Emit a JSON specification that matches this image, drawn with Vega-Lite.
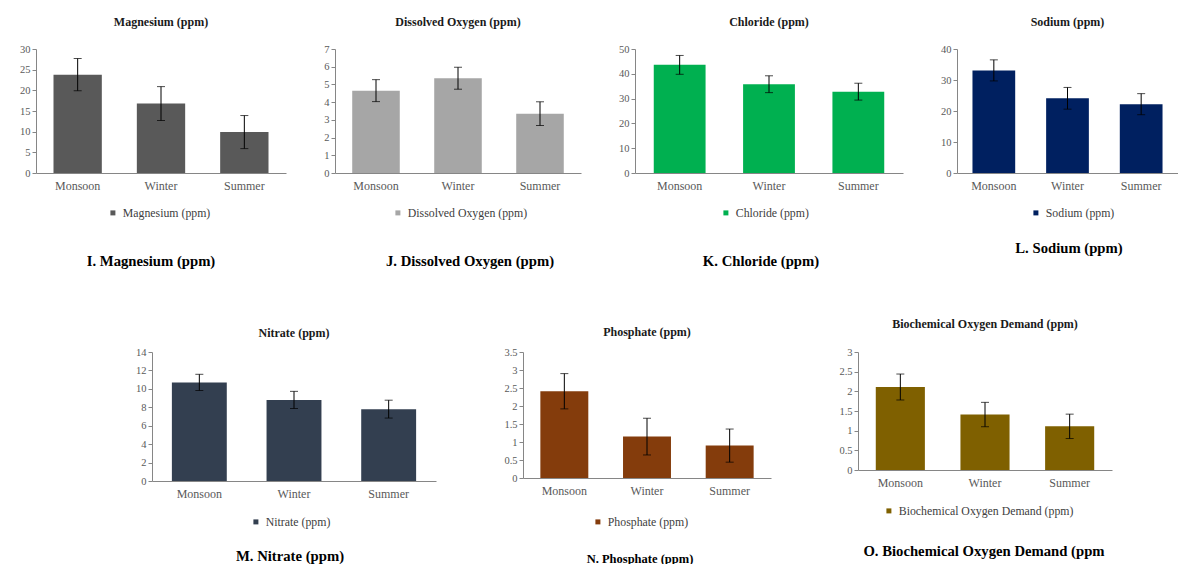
{
  "$schema": "https://vega.github.io/schema/vega-lite/v6.json",
  "background": "white",
  "padding": {"left": 19, "top": 16, "right": 0, "bottom": 0},
  "datasets": {
    "water": [
      {"param": "Magnesium (ppm)", "season": "Monsoon", "value": 23.8, "err": 3.9},
      {"param": "Magnesium (ppm)", "season": "Winter", "value": 16.8, "err": 4.1},
      {"param": "Magnesium (ppm)", "season": "Summer", "value": 9.9, "err": 4.0},
      {"param": "Dissolved Oxygen (ppm)", "season": "Monsoon", "value": 4.65, "err": 0.62},
      {"param": "Dissolved Oxygen (ppm)", "season": "Winter", "value": 5.35, "err": 0.62},
      {"param": "Dissolved Oxygen (ppm)", "season": "Summer", "value": 3.35, "err": 0.67},
      {"param": "Chloride (ppm)", "season": "Monsoon", "value": 43.6, "err": 3.8},
      {"param": "Chloride (ppm)", "season": "Winter", "value": 35.8, "err": 3.4},
      {"param": "Chloride (ppm)", "season": "Summer", "value": 32.8, "err": 3.4},
      {"param": "Sodium (ppm)", "season": "Monsoon", "value": 33.1, "err": 3.4},
      {"param": "Sodium (ppm)", "season": "Winter", "value": 24.1, "err": 3.5},
      {"param": "Sodium (ppm)", "season": "Summer", "value": 22.2, "err": 3.4},
      {"param": "Nitrate (ppm)", "season": "Monsoon", "value": 10.7, "err": 0.88},
      {"param": "Nitrate (ppm)", "season": "Winter", "value": 8.8, "err": 0.93},
      {"param": "Nitrate (ppm)", "season": "Summer", "value": 7.8, "err": 0.97},
      {"param": "Phosphate (ppm)", "season": "Monsoon", "value": 2.41, "err": 0.49},
      {"param": "Phosphate (ppm)", "season": "Winter", "value": 1.15, "err": 0.51},
      {"param": "Phosphate (ppm)", "season": "Summer", "value": 0.9, "err": 0.46},
      {"param": "Biochemical Oxygen Demand (ppm)", "season": "Monsoon", "value": 2.11, "err": 0.33},
      {"param": "Biochemical Oxygen Demand (ppm)", "season": "Winter", "value": 1.41, "err": 0.31},
      {"param": "Biochemical Oxygen Demand (ppm)", "season": "Summer", "value": 1.11, "err": 0.31}
    ]
  },
  "data": {"name": "water"},
  "resolve": {"scale": {"color": "independent"}},
  "spacing": 48,
  "vconcat": [
    {
      "resolve": {"scale": {"color": "independent"}},
      "spacing": 37,
      "hconcat": [
        {
          "width": 250, "height": 124,
          "title": {"text": "Magnesium (ppm)", "offset": 15},
          "transform": [{"filter": "datum.param === 'Magnesium (ppm)'"}],
          "encoding": {
            "x": {"field": "season", "type": "nominal", "sort": ["Monsoon", "Winter", "Summer"], "scale": {"paddingInner": 0.42, "paddingOuter": 0.21}, "axis": {"title": null}},
            "y": {"field": "value", "type": "quantitative", "scale": {"domain": [0, 30]}, "axis": {"title": null, "values": [0, 5, 10, 15, 20, 25, 30]}}
          },
          "layer": [
            {"mark": {"type": "bar"}, "encoding": {"color": {"field": "param", "type": "nominal", "scale": {"range": ["#595959"]}, "legend": {"orient": "none", "legendX": 51, "legendY": 158, "symbolOffset": 16, "title": "I. Magnesium (ppm)", "titlePadding": 34}}}},
            {"mark": {"type": "errorbar", "ticks": true, "color": "black", "size": 8, "thickness": 1}, "encoding": {"yError": {"field": "err"}}}
          ]
        },
        {
          "width": 246, "height": 124,
          "title": {"text": "Dissolved Oxygen (ppm)", "offset": 15},
          "transform": [{"filter": "datum.param === 'Dissolved Oxygen (ppm)'"}],
          "encoding": {
            "x": {"field": "season", "type": "nominal", "sort": ["Monsoon", "Winter", "Summer"], "scale": {"paddingInner": 0.42, "paddingOuter": 0.21}, "axis": {"title": null}},
            "y": {"field": "value", "type": "quantitative", "scale": {"domain": [0, 7]}, "axis": {"title": null, "values": [0, 1, 2, 3, 4, 5, 6, 7]}}
          },
          "layer": [
            {"mark": {"type": "bar"}, "encoding": {"color": {"field": "param", "type": "nominal", "scale": {"range": ["#a6a6a6"]}, "legend": {"orient": "none", "legendX": 51, "legendY": 158, "symbolOffset": -20, "title": "J. Dissolved Oxygen (ppm)", "titlePadding": 34}}}},
            {"mark": {"type": "errorbar", "ticks": true, "color": "black", "size": 8, "thickness": 1}, "encoding": {"yError": {"field": "err"}}}
          ]
        },
        {
          "width": 268, "height": 124,
          "title": {"text": "Chloride (ppm)", "offset": 15},
          "transform": [{"filter": "datum.param === 'Chloride (ppm)'"}],
          "encoding": {
            "x": {"field": "season", "type": "nominal", "sort": ["Monsoon", "Winter", "Summer"], "scale": {"paddingInner": 0.42, "paddingOuter": 0.21}, "axis": {"title": null}},
            "y": {"field": "value", "type": "quantitative", "scale": {"domain": [0, 50]}, "axis": {"title": null, "values": [0, 10, 20, 30, 40, 50]}}
          },
          "layer": [
            {"mark": {"type": "bar"}, "encoding": {"color": {"field": "param", "type": "nominal", "scale": {"range": ["#00b050"]}, "legend": {"orient": "none", "legendX": 68, "legendY": 158, "symbolOffset": 6, "title": "K. Chloride (ppm)", "titlePadding": 34}}}},
            {"mark": {"type": "errorbar", "ticks": true, "color": "black", "size": 8, "thickness": 1}, "encoding": {"yError": {"field": "err"}}}
          ]
        },
        {
          "width": 221, "height": 124,
          "title": {"text": "Sodium (ppm)", "offset": 15},
          "transform": [{"filter": "datum.param === 'Sodium (ppm)'"}],
          "encoding": {
            "x": {"field": "season", "type": "nominal", "sort": ["Monsoon", "Winter", "Summer"], "scale": {"paddingInner": 0.42, "paddingOuter": 0.21}, "axis": {"title": null}},
            "y": {"field": "value", "type": "quantitative", "scale": {"domain": [0, 40]}, "axis": {"title": null, "values": [0, 10, 20, 30, 40]}}
          },
          "layer": [
            {"mark": {"type": "bar"}, "encoding": {"color": {"field": "param", "type": "nominal", "scale": {"range": ["#002060"]}, "legend": {"orient": "none", "legendX": 58, "legendY": 158, "symbolOffset": 7, "title": "L. Sodium (ppm)", "titlePadding": 21}}}},
            {"mark": {"type": "errorbar", "ticks": true, "color": "black", "size": 8, "thickness": 1}, "encoding": {"yError": {"field": "err"}}}
          ]
        }
      ]
    },
    {
      "resolve": {"scale": {"color": "independent"}},
      "spacing": 67,
      "hconcat": [
        {"width": 32, "height": 10, "data": {"values": []}, "mark": "point"},
        {
          "width": 284, "height": 129,
          "title": {"text": "Nitrate (ppm)", "offset": 7.5},
          "transform": [{"filter": "datum.param === 'Nitrate (ppm)'"}],
          "encoding": {
            "x": {"field": "season", "type": "nominal", "sort": ["Monsoon", "Winter", "Summer"], "scale": {"paddingInner": 0.42, "paddingOuter": 0.21}, "axis": {"title": null}},
            "y": {"field": "value", "type": "quantitative", "scale": {"domain": [0, 14]}, "axis": {"title": null, "values": [0, 2, 4, 6, 8, 10, 12, 14]}}
          },
          "layer": [
            {"mark": {"type": "bar"}, "encoding": {"color": {"field": "param", "type": "nominal", "scale": {"range": ["#333f50"]}, "legend": {"orient": "none", "legendX": 84, "legendY": 164, "symbolOffset": 0, "title": "M. Nitrate (ppm)", "titlePadding": 20}}}},
            {"mark": {"type": "errorbar", "ticks": true, "color": "black", "size": 8, "thickness": 1}, "encoding": {"yError": {"field": "err"}}}
          ]
        },
        {
          "width": 248, "height": 126,
          "title": {"text": "Phosphate (ppm)", "offset": 8.5},
          "transform": [{"filter": "datum.param === 'Phosphate (ppm)'"}],
          "encoding": {
            "x": {"field": "season", "type": "nominal", "sort": ["Monsoon", "Winter", "Summer"], "scale": {"paddingInner": 0.42, "paddingOuter": 0.21}, "axis": {"title": null}},
            "y": {"field": "value", "type": "quantitative", "scale": {"domain": [0, 3.5]}, "axis": {"title": null, "format": "~g", "values": [0, 0.5, 1, 1.5, 2, 2.5, 3, 3.5]}}
          },
          "layer": [
            {"mark": {"type": "bar"}, "encoding": {"color": {"field": "param", "type": "nominal", "scale": {"range": ["#843c0c"]}, "legend": {"orient": "none", "legendX": 64, "legendY": 164, "symbolOffset": 0, "title": "N. Phosphate (ppm)", "titleFontSize": 12.5, "titlePadding": 24}}}},
            {"mark": {"type": "errorbar", "ticks": true, "color": "black", "size": 8, "thickness": 1}, "encoding": {"yError": {"field": "err"}}}
          ]
        },
        {
          "width": 254, "height": 118,
          "title": {"text": "Biochemical Oxygen Demand (ppm)", "offset": 16.5},
          "transform": [{"filter": "datum.param === 'Biochemical Oxygen Demand (ppm)'"}],
          "encoding": {
            "x": {"field": "season", "type": "nominal", "sort": ["Monsoon", "Winter", "Summer"], "scale": {"paddingInner": 0.42, "paddingOuter": 0.21}, "axis": {"title": null}},
            "y": {"field": "value", "type": "quantitative", "scale": {"domain": [0, 3]}, "axis": {"title": null, "format": "~g", "values": [0, 0.5, 1, 1.5, 2, 2.5, 3]}}
          },
          "layer": [
            {"mark": {"type": "bar"}, "encoding": {"color": {"field": "param", "type": "nominal", "scale": {"range": ["#7f6000"]}, "legend": {"orient": "none", "legendX": 5, "legendY": 153, "symbolOffset": -12, "title": "O. Biochemical Oxygen Demand (ppm", "titlePadding": 26}}}},
            {"mark": {"type": "errorbar", "ticks": true, "color": "black", "size": 8, "thickness": 1}, "encoding": {"yError": {"field": "err"}}}
          ]
        }
      ]
    }
  ],
  "config": {
    "font": "Liberation Serif",
    "view": {"stroke": null},
    "title": {"fontSize": 12, "fontWeight": "bold", "color": "#1a1a1a", "anchor": "middle"},
    "axis": {"grid": false, "domainColor": "#868686", "tickColor": "#868686", "labelFont": "Liberation Serif", "labelColor": "#595959"},
    "axisY": {"tickSize": 4, "labelPadding": 2, "labelFontSize": 10.5},
    "axisX": {"ticks": false, "labelPadding": 7, "labelFontSize": 12, "labelAngle": 0},
    "legend": {"titleOrient": "bottom", "titleAnchor": "middle", "titleFontSize": 14.7, "titleFontWeight": "bold", "titleColor": "#000000", "symbolType": "square", "symbolSize": 25, "labelFontSize": 11.8, "labelColor": "#404040", "padding": 0, "titleLimit": 600, "labelLimit": 400, "symbolStrokeWidth": 0}
  }
}
